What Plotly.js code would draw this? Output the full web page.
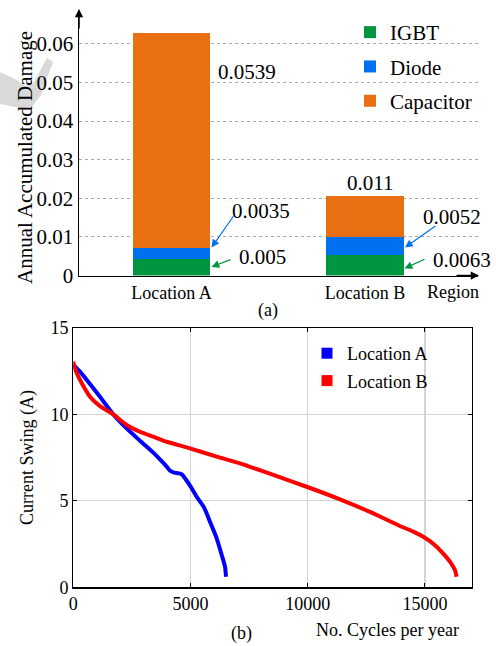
<!DOCTYPE html>
<html>
<head>
<meta charset="utf-8">
<script src="https://cdn.plot.ly/plotly-3.0.1.min.js"></script>
<style>html,body{margin:0;padding:0;background:#fff;}#chart{width:496px;height:646px;}</style>
</head>
<body>
<div id="chart"></div>
<script>
// ---- data (a) ----
const locations = ['Location A', 'Location B'];
const igbt = [0.0044, 0.0054];
const diode = [0.0026, 0.0046];
const capacitor = [0.0559, 0.0107];
const labelsA = ['0.005', '0.0035', '0.0539'];   // IGBT, Diode, Capacitor
const labelsB = ['0.0063', '0.0052', '0.011'];
const damageTicks = [0, 0.01, 0.02, 0.03, 0.04, 0.05, 0.06];
const damageTickText = ['0', '0.01', '0.02', '0.03', '0.04', '0.05', '0.06'];

// ---- data (b) ----
const cyclesA = [0, 286, 574, 1138, 1706, 2276, 2843, 3412, 3696, 3983, 4124, 4269, 4623, 4764, 5049, 5262, 5574, 5830, 6116, 6329, 6471, 6513];
const swingA  = [12.85, 12.46, 11.98, 11.01, 9.99, 9.18, 8.47, 7.78, 7.39, 6.97, 6.74, 6.64, 6.53, 6.30, 5.72, 5.23, 4.62, 3.79, 2.83, 1.87, 1.19, 0.61];
const cyclesB = [0, 71, 217, 427, 711, 1138, 1706, 2276, 2843, 3412, 3983, 4977, 6116, 7109, 8531, 9953, 11374, 12796, 13933, 14500, 14926, 15352, 15779, 16063, 16276, 16347];
const swingB  = [13.03, 12.65, 12.17, 11.63, 11.01, 10.47, 9.99, 9.38, 8.99, 8.70, 8.41, 8.03, 7.55, 7.16, 6.49, 5.81, 5.08, 4.27, 3.54, 3.22, 2.92, 2.52, 1.95, 1.48, 1.00, 0.61];

const W = 496, H = 646;
const px = v => v / W;
const py = v => 1 - v / H;
const FONT = 'Liberation Serif';
const GREEN = '#00953f', BLUE = '#0070ee', ORANGE = '#e87012';
const barWidth = 0.398;

const traces = [
  {type: 'bar', x: locations, y: igbt, name: 'IGBT', marker: {color: GREEN}, width: barWidth,
   xaxis: 'x', yaxis: 'y', legend: 'legend', legendgroup: 'g1', hoverinfo: 'skip'},
  {type: 'bar', x: locations, y: diode, name: 'Diode', marker: {color: BLUE}, width: barWidth,
   xaxis: 'x', yaxis: 'y', legend: 'legend', legendgroup: 'g2', hoverinfo: 'skip'},
  {type: 'bar', x: locations, y: capacitor, name: 'Capacitor', marker: {color: ORANGE}, width: barWidth,
   xaxis: 'x', yaxis: 'y', legend: 'legend', legendgroup: 'g3', hoverinfo: 'skip'},
  {type: 'scatter', mode: 'lines', x: cyclesA, y: swingA, name: 'Location A',
   line: {color: '#0000ff', width: 4, shape: 'spline', smoothing: 0.6},
   xaxis: 'x2', yaxis: 'y2', showlegend: false},
  {type: 'scatter', mode: 'lines', x: cyclesB, y: swingB, name: 'Location B',
   line: {color: '#ff0000', width: 4, shape: 'spline', smoothing: 0.6},
   xaxis: 'x2', yaxis: 'y2', showlegend: false},
  {type: 'scatter', mode: 'markers', x: [null], y: [null], name: 'Location A',
   marker: {symbol: 'square', size: 11, color: '#0000ff'}, xaxis: 'x2', yaxis: 'y2', legend: 'legend2', legendgroup: 'h1'},
  {type: 'scatter', mode: 'markers', x: [null], y: [null], name: 'Location B',
   marker: {symbol: 'square', size: 11, color: '#ff0000'}, xaxis: 'x2', yaxis: 'y2', legend: 'legend2', legendgroup: 'h2'}
];

const annotations = [];
function txt(t, x, y, xanchor, size, angle) {
  annotations.push({text: t, xref: 'paper', yref: 'paper', x: px(x), y: py(y), xanchor: xanchor || 'left',
    yanchor: 'middle', showarrow: false, textangle: angle || 0,
    font: {family: FONT, size: size || 21, color: '#000'}});
}
function arrow(hx, hy, tx, ty, color, size, width) {
  annotations.push({text: '', xref: 'paper', yref: 'paper', x: px(hx), y: py(hy), ax: tx - hx, ay: ty - hy,
    axref: 'pixel', ayref: 'pixel', showarrow: true, arrowhead: 2, arrowsize: size || 1.3,
    arrowwidth: width || 1.2, arrowcolor: color, standoff: 0, startstandoff: 0});
}
// y-axis title of (a), placed as in the reference (below the plot centre)
txt('Annual Accumulated Damage', 25, 158, 'center', 21, -90);
// value labels (a)
txt(labelsA[2], 216, 72);
txt(labelsA[1], 230, 211);
txt(labelsA[0], 237, 257);
txt(labelsB[2], 370, 183, 'center');
txt(labelsB[1], 421, 217);
txt(labelsB[0], 431, 260);
// pointer arrows (a)
arrow(211.5, 247.5, 235, 214, BLUE);
arrow(211.5, 267, 232, 259, GREEN);
arrow(405, 247.5, 437, 225, BLUE);
arrow(404.5, 268.5, 426, 258.5, GREEN);
// axis arrows (a)
arrow(79, 9, 79, 30, '#000', 1.1, 1.5);
arrow(479, 275.5, 455, 275.5, '#000', 1.1, 1.5);
// misc texts
txt('Region', 453, 292, 'center', 18);
txt('(a)', 268, 310, 'center', 18);
txt('No. Cycles per year', 461, 630, 'right', 18);
txt('(b)', 241, 633, 'center', 18);

const wm = [[0,72],[15,79],[25,86],[33,84],[47,58],[53,62],[41,95],[32,107],[20,108],[0,104]];
const wmPath = 'M' + wm.map(p => px(p[0]).toFixed(4) + ',' + py(p[1]).toFixed(4)).join('L') + 'Z';

const layout = {
  width: W, height: H,
  margin: {l: 0, r: 0, t: 0, b: 0},
  paper_bgcolor: '#fff', plot_bgcolor: 'rgba(0,0,0,0)',
  font: {family: FONT, color: '#000', size: 18},
  barmode: 'stack',
  showlegend: true,
  xaxis: {
    domain: [px(79), px(478)], anchor: 'y', type: 'category',
    range: [-0.478, 1.584], showline: true, linecolor: '#000', linewidth: 1.5,
    ticks: '', showgrid: false, zeroline: false, tickfont: {size: 18, family: FONT, color: '#000'},
    fixedrange: true
  },
  yaxis: {
    domain: [py(275.5), py(10)], anchor: 'x',
    range: [0, 0.06878], tickvals: damageTicks, ticktext: damageTickText,
    showline: true, linecolor: '#000', linewidth: 1.5, ticks: '',
    showgrid: true, gridcolor: '#aaaaaa', griddash: 'dot', gridwidth: 1, zeroline: false,
    tickfont: {size: 21, family: FONT, color: '#000'},
    fixedrange: true
  },
  xaxis2: {
    domain: [px(73.3), px(472)], anchor: 'y2',
    range: [0, 17005], tickvals: [0, 5000, 10000, 15000], tickformat: 'd',
    showline: true, mirror: 'ticks', linecolor: '#000', linewidth: 1.2,
    ticks: 'inside', ticklen: 4, tickcolor: '#000',
    showgrid: true, gridcolor: '#d4d4d4', gridwidth: 1.2, zeroline: false,
    tickfont: {size: 18, family: FONT, color: '#000'}
  },
  yaxis2: {
    domain: [py(587.3), py(327.7)], anchor: 'x2',
    range: [0, 15], tickvals: [0, 5, 10, 15],
    showline: true, mirror: 'ticks', linecolor: '#000', linewidth: 1.2,
    ticks: 'inside', ticklen: 4, tickcolor: '#000',
    showgrid: true, gridcolor: '#d4d4d4', gridwidth: 1.2, zeroline: false,
    tickfont: {size: 18, family: FONT, color: '#000'},
    title: {text: 'Current Swing (A)', font: {size: 18, family: FONT, color: '#000'}, standoff: 12}
  },
  legend: {
    x: px(350), y: py(12), xanchor: 'left', yanchor: 'top',
    bgcolor: 'rgba(0,0,0,0)', borderwidth: 0, traceorder: 'grouped', tracegroupgap: 4,
    font: {size: 21, family: FONT, color: '#000'}
  },
  legend2: {
    x: px(307), y: py(335), xanchor: 'left', yanchor: 'top',
    bgcolor: 'rgba(0,0,0,0)', borderwidth: 0, traceorder: 'grouped', tracegroupgap: 1,
    font: {size: 18, family: FONT, color: '#000'}
  },
  annotations: annotations,
  shapes: [{type: 'path', xref: 'paper', yref: 'paper', path: wmPath, fillcolor: '#d9d9d9',
    line: {width: 0}, layer: 'below'}]
};

Plotly.newPlot('chart', traces, layout, {displayModeBar: false, staticPlot: true});
</script>
</body>
</html>
